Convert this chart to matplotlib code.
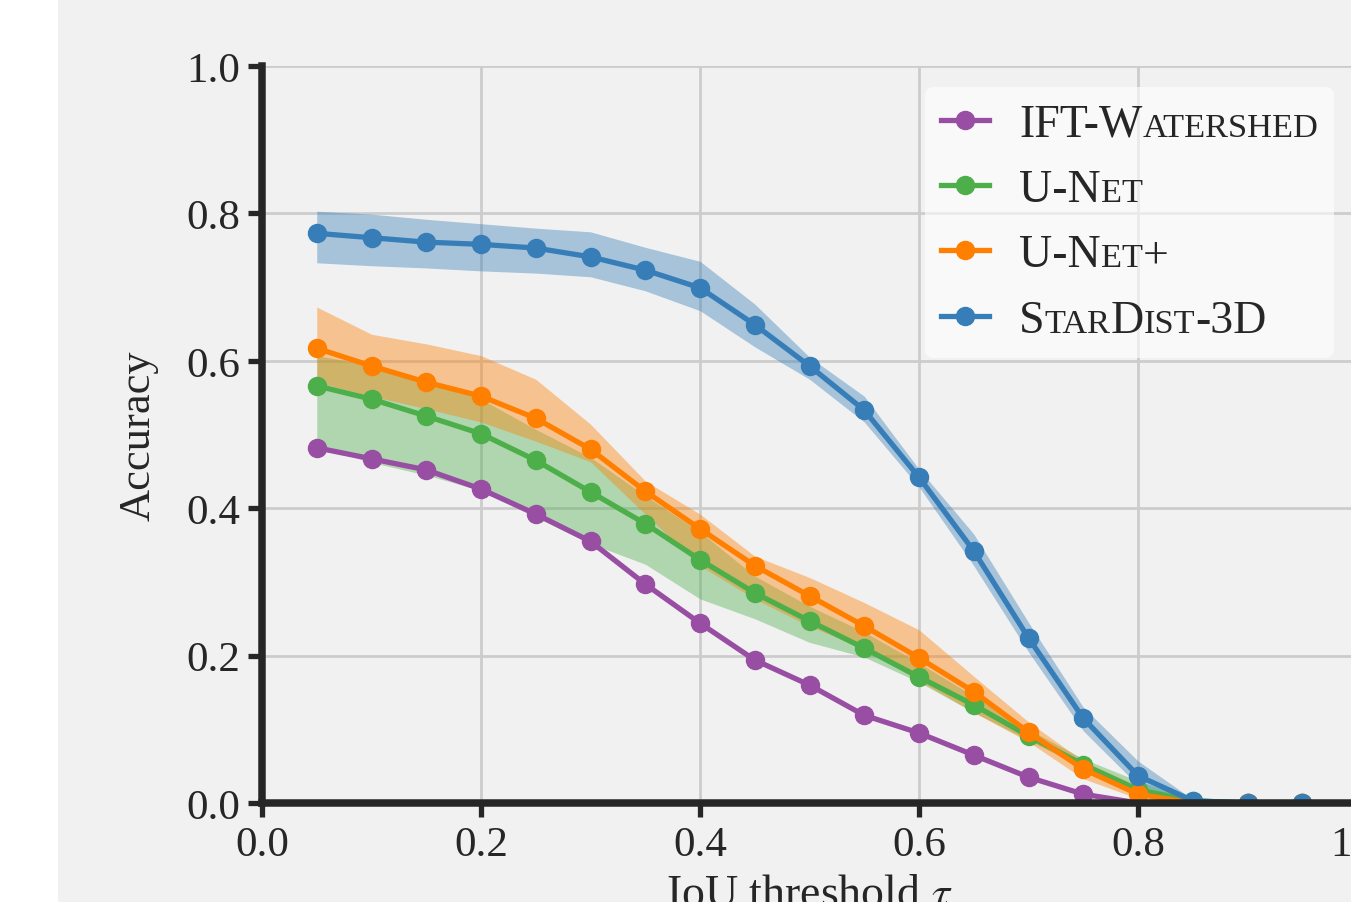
"""Accuracy vs IoU threshold for the four segmentation methods."""
import matplotlib
matplotlib.use("Agg")
import matplotlib.pyplot as plt
from matplotlib.offsetbox import HPacker, TextArea
from matplotlib.patches import Rectangle

# IoU thresholds
TAU = [0.05, 0.10, 0.15, 0.20, 0.25, 0.30, 0.35, 0.40, 0.45, 0.50,
       0.55, 0.60, 0.65, 0.70, 0.75, 0.80, 0.85, 0.90, 0.95]

IFT = [0.482, 0.467, 0.452, 0.426, 0.392, 0.355, 0.297, 0.244, 0.194, 0.160,
       0.119, 0.095, 0.065, 0.035, 0.012, 0.0, 0.0, 0.0, 0.0]

UNET = [0.566, 0.548, 0.525, 0.501, 0.465, 0.422, 0.379, 0.330, 0.285, 0.247,
        0.210, 0.171, 0.133, 0.091, 0.052, 0.018, 0.003, 0.0, 0.0]
UNET_LO = [0.484, 0.462, 0.445, 0.424, 0.388, 0.352, 0.324, 0.277, 0.250, 0.218,
           0.198, 0.164, 0.123, 0.085, 0.048, 0.015, 0.0, 0.0, 0.0]
UNET_HI = [0.607, 0.594, 0.573, 0.548, 0.507, 0.469, 0.417, 0.368, 0.308, 0.267,
           0.232, 0.190, 0.145, 0.100, 0.060, 0.030, 0.005, 0.0, 0.0]

UNETP = [0.617, 0.593, 0.571, 0.552, 0.522, 0.480, 0.423, 0.372, 0.322, 0.281,
         0.240, 0.197, 0.151, 0.096, 0.046, 0.012, 0.0, 0.0, 0.0]
UNETP_LO = [0.571, 0.552, 0.535, 0.517, 0.491, 0.463, 0.392, 0.322, 0.277, 0.240,
            0.209, 0.166, 0.123, 0.083, 0.033, 0.006, 0.0, 0.0, 0.0]
UNETP_HI = [0.673, 0.636, 0.623, 0.607, 0.575, 0.514, 0.437, 0.392, 0.335, 0.306,
            0.272, 0.235, 0.172, 0.110, 0.057, 0.023, 0.0, 0.0, 0.0]

STAR = [0.773, 0.767, 0.761, 0.758, 0.753, 0.741, 0.723, 0.699, 0.649, 0.593,
        0.533, 0.442, 0.342, 0.224, 0.115, 0.037, 0.003, 0.0, 0.0]
STAR_LO = [0.733, 0.729, 0.726, 0.722, 0.719, 0.714, 0.695, 0.668, 0.619, 0.575,
           0.517, 0.429, 0.322, 0.205, 0.098, 0.024, 0.0, 0.0, 0.0]
STAR_HI = [0.803, 0.799, 0.792, 0.786, 0.780, 0.775, 0.754, 0.735, 0.677, 0.605,
           0.552, 0.453, 0.365, 0.245, 0.130, 0.057, 0.005, 0.0, 0.0]

LABELS = ["IFT-Watershed", "U-Net", "U-Net+", "StarDist-3D"]
# legend labels in small caps: (text, small?)
LABEL_PARTS = [
    [("IFT-W", False), ("ATERSHED", True)],
    [("U-N", False), ("ET", True)],
    [("U-N", False), ("ET", True), ("+", False)],
    [("S", False), ("TAR", True), ("D", False), ("IST", True), ("-3D", False)],
]

XTICKS = [0.0, 0.2, 0.4, 0.6, 0.8, 1.0]
YTICKS = [0.0, 0.2, 0.4, 0.6, 0.8, 1.0]

BG = "#f1f1f1"
INK = "#262626"
FS = 31
LEG_FS = 33
W, H = 1351, 903

plt.rcParams.update({
    "font.family": "serif",
    "font.serif": ["Liberation Serif", "DejaVu Serif"],
    "mathtext.fontset": "stix",
    "text.color": INK,
    "axes.labelcolor": INK,
    "xtick.color": INK,
    "ytick.color": INK,
})

fig = plt.figure(figsize=(W / 100, H / 100), dpi=100, facecolor=BG)
fig.patches.append(Rectangle((0, 0), 58 / W, 1, transform=fig.transFigure,
                             facecolor="white", edgecolor="none"))
ax = fig.add_axes([262 / W, 99 / H, 1095 / W, 737 / H], facecolor=BG)

series = [
    (LABELS[0], IFT, None, None, "#984ea3"),
    (LABELS[1], UNET, UNET_LO, UNET_HI, "#4daf4a"),
    (LABELS[2], UNETP, UNETP_LO, UNETP_HI, "#ff7f00"),
    (LABELS[3], STAR, STAR_LO, STAR_HI, "#377eb8"),
]
for i, (lab, y, lo, hi, c) in enumerate(series):
    if lo is not None:
        ax.fill_between(TAU, lo, hi, color=c, alpha=0.4, lw=0, zorder=1.5)
    ax.plot(TAU, y, "o-", color=c, lw=3.8, ms=13, label=lab, zorder=2 + 0.1 * i)

ax.set_xlim(0, 1)
ax.set_ylim(0, 1)
ax.set_xticks(XTICKS, [f"{t:.1f}" for t in XTICKS])
ax.set_yticks(YTICKS, [f"{t:.1f}" for t in YTICKS])
ax.tick_params(direction="out", length=10, width=3.8, pad=6, labelsize=FS)
ax.grid(True, color="#cccccc", lw=2)
ax.set_axisbelow(True)
for side in ("top", "right"):
    ax.spines[side].set_visible(False)
for side in ("left", "bottom"):
    ax.spines[side].set_linewidth(5.4)
    ax.spines[side].set_color(INK)

ax.set_xlabel(r"IoU threshold $\tau$", fontsize=33, labelpad=7)
ax.set_ylabel("Accuracy", fontsize=32)
ax.yaxis.set_label_coords(-0.094, 0.5)

leg = ax.legend(loc="upper left", bbox_to_anchor=(925 / W, 1 - 88 / H),
                bbox_transform=fig.transFigure, borderaxespad=0, fontsize=LEG_FS,
                handlelength=1.05, handletextpad=0.65, borderpad=0.35,
                labelspacing=0.5, frameon=True, fancybox=True,
                facecolor="white", framealpha=0.6, edgecolor="none")

# swap the plain labels for small-caps versions
col = leg._legend_handle_box.get_children()[0]
for item, parts in zip(col.get_children(), LABEL_PARTS):
    kids = item.get_children()
    kids[1] = HPacker(pad=0, sep=0, align="baseline", children=[
        TextArea(t, textprops=dict(fontsize=LEG_FS * 0.75 if small else LEG_FS,
                                   color=INK))
        for t, small in parts])
leg._legend_box.set_figure(fig)

fig.savefig("out.png", dpi=100, facecolor=BG)
